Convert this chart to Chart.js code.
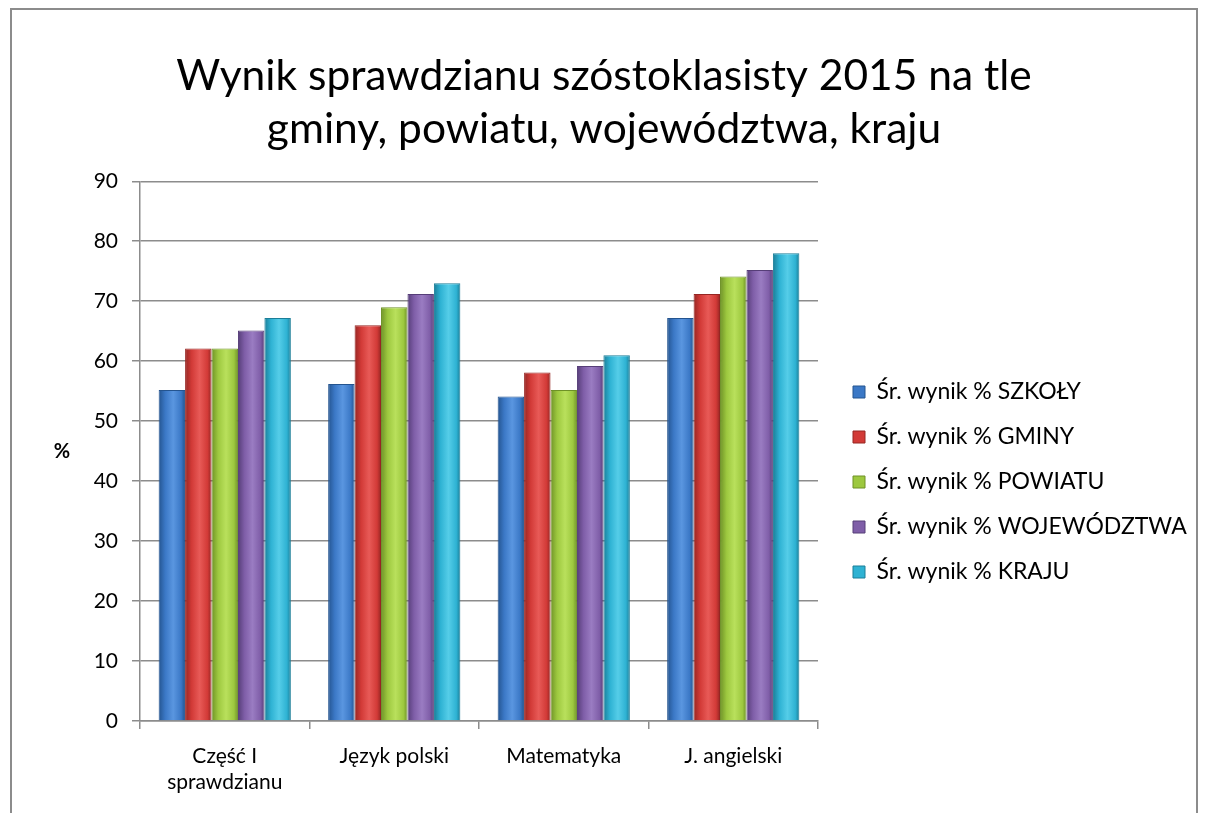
<!DOCTYPE html>
<html>
<head>
<meta charset="utf-8">
<script src="https://cdn.jsdelivr.net/npm/chart.js@4/dist/chart.umd.min.js"></script>
<style>
  html, body { margin: 0; padding: 0; background: #fff; overflow: hidden; }
  #frame {
    position: absolute; left: 10px; top: 8px; width: 1188px; height: 830px;
    border: 2px solid #8c8c8c; box-sizing: border-box; background: #fff;
  }
  #wrap { position: absolute; left: 12px; top: 10px; width: 1184px; height: 800px; }
</style>
</head>
<body>
<div id="frame"></div>
<div id="wrap"><canvas id="chart"></canvas></div>
<script>
const categories = [['Część I', 'sprawdzianu'], 'Język polski', 'Matematyka', 'J. angielski'];
const seriesNames = ['Śr. wynik % SZKOŁY', 'Śr. wynik % GMINY', 'Śr. wynik % POWIATU', 'Śr. wynik % WOJEWÓDZTWA', 'Śr. wynik % KRAJU'];
const szkoly = [55.2, 56.2, 54.1, 67.2];
const gminy = [62.1, 66.0, 58.1, 71.2];
const powiatu = [62.1, 69.0, 55.2, 74.1];
const wojewodztwa = [65.1, 71.2, 59.2, 75.2];
const kraju = [67.2, 73.0, 61.0, 78.0];
const yTitle = '%';

// base / edge / light colours per series
const palette = [
  ['#3b78c6', '#24548f', '#5a96e0'],
  ['#d23a37', '#962623', '#e85a57'],
  ['#9dc83f', '#6e9127', '#b9e05c'],
  ['#7f5ea8', '#563e78', '#9a7cc2'],
  ['#2eb2d3', '#1b7e98', '#55cde8']
];

const FONT = 'Lato, "Open Sans", sans-serif';

// horizontal shading on each bar
const barShade = {
  id: 'barShade',
  beforeDatasetsDraw(chart) {
    const ctx = chart.ctx;
    chart.data.datasets.forEach((ds, di) => {
      const meta = chart.getDatasetMeta(di);
      const c = palette[di];
      meta.data.forEach(bar => {
        const l = bar.x - bar.width / 2, r = bar.x + bar.width / 2;
        const g = ctx.createLinearGradient(l, 0, r, 0);
        g.addColorStop(0, c[1]);
        g.addColorStop(0.25, c[0]);
        g.addColorStop(0.55, c[2]);
        g.addColorStop(0.85, c[0]);
        g.addColorStop(1, c[1]);
        bar.options = Object.assign({}, bar.options, { backgroundColor: g });
      });
    });
  }
};

// fixed legend column width, and nudge it right/down a little
const legendPlace = {
  id: 'legendPlace',
  afterInit(chart) {
    const lg = chart.legend;
    const fit = lg.fit;
    lg.fit = function () { fit.call(this); this.width = 378; };
  },
  afterLayout(chart) {
    const lg = chart.legend;
    lg.left += 13; lg.right += 13;
    lg.top += 72; lg.bottom += 72;
  }
};

// upright "%" axis title left of the y ticks
const uprightTitle = {
  id: 'uprightTitle',
  afterDraw(chart) {
    const { ctx, chartArea } = chart;
    ctx.save();
    ctx.font = 'bold 20px ' + FONT;
    ctx.fillStyle = '#000';
    ctx.textAlign = 'center';
    ctx.textBaseline = 'middle';
    ctx.fillText(yTitle, 50, (chartArea.top + chartArea.bottom) / 2);
    ctx.restore();
  }
};

const allSeries = [szkoly, gminy, powiatu, wojewodztwa, kraju];

new Chart(document.getElementById('chart'), {
  type: 'bar',
  data: {
    labels: categories,
    datasets: allSeries.map((d, i) => ({
      label: seriesNames[i],
      data: d,
      backgroundColor: palette[i][0],
      borderColor: palette[i][1],
      borderWidth: 1,
      categoryPercentage: 0.78,
      barPercentage: 1
    }))
  },
  options: {
    responsive: true,
    maintainAspectRatio: false,
    animation: false,
    layout: { padding: 0 },
    plugins: {
      title: {
        display: true,
        text: ['Wynik sprawdzianu szóstoklasisty 2015 na tle', 'gminy, powiatu, województwa, kraju'],
        color: '#000',
        font: { family: FONT, size: 42.5, weight: 'normal', lineHeight: 1.25 },
        padding: { top: 40, bottom: 25 }
      },
      legend: {
        position: 'right',
        align: 'center',
        labels: {
          color: '#000',
          font: { family: FONT, size: 23 },
          boxWidth: 12,
          boxHeight: 12,
          padding: 22,
          generateLabels(chart) {
            return chart.data.datasets.map((ds, i) => ({
              text: ds.label,
              fillStyle: palette[i][0],
              strokeStyle: palette[i][1],
              lineWidth: 1,
              datasetIndex: i
            }));
          }
        }
      },
      tooltip: { enabled: false }
    },
    scales: {
      x: {
        offset: true,
        afterFit(scale) { scale.height = 89; },
        grid: { offset: true, drawOnChartArea: false, color: '#8c8c8c', lineWidth: 1.5, tickLength: 8 },
        border: { color: '#8c8c8c', width: 1.5 },
        ticks: { color: '#000', font: { family: FONT, size: 21, lineHeight: 1.24 }, padding: 14, maxRotation: 0 }
      },
      y: {
        min: 0,
        max: 90,
        afterFit(scale) { scale.width = 128; },
        ticks: { stepSize: 10, color: '#000', font: { family: FONT, size: 21 }, padding: 14 },
        grid: { color: '#8c8c8c', lineWidth: 1.5, tickLength: 8 },
        border: { color: '#8c8c8c', width: 1.5 }
      }
    }
  },
  plugins: [barShade, legendPlace, uprightTitle]
});
</script>
</body>
</html>
